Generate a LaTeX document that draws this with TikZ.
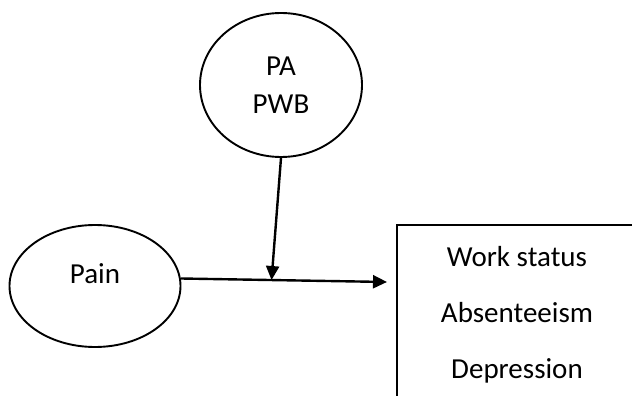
\documentclass[tikz,border=0pt]{standalone}
\usepackage{fontspec}
\setmainfont{Carlito}
\usetikzlibrary{arrows.meta,shapes.geometric,calc}

\begin{document}
\begin{tikzpicture}[
  x=1pt, y=-1pt,
  factor/.style={ellipse, draw=black, line width=1.9pt, inner sep=0pt, align=center, font=\fontsize{29}{38}\selectfont},
  outbox/.style={rectangle, draw=black, line width=1.9pt, align=center, minimum width=240pt, minimum height=180pt, font=\fontsize{29}{56}\selectfont},
  line/.style={-{Triangle[length=14pt,width=13pt]}, line width=2.4pt, draw=black}
]
\useasboundingbox (0,0) rectangle (632,396);
\clip (0,0) rectangle (632,396);

\node[factor, minimum width=162pt, minimum height=144pt] (moderator) at (281,85) {PA\\PWB};
\node[factor, minimum width=171pt, minimum height=122pt] (pain) at (95,286) {\raisebox{12pt}[\height][\depth]{Pain}};
\node[outbox] (outcome) at (517,315) {Work status\\Absenteeism\\Depression};

\coordinate (tip) at (387,282);
\coordinate (mid) at ($(pain.5)!0.44!(tip)$);

\draw[line] (pain.5) -- (tip);
\draw[line] (moderator.south) -- (mid);

\end{tikzpicture}
\end{document}
